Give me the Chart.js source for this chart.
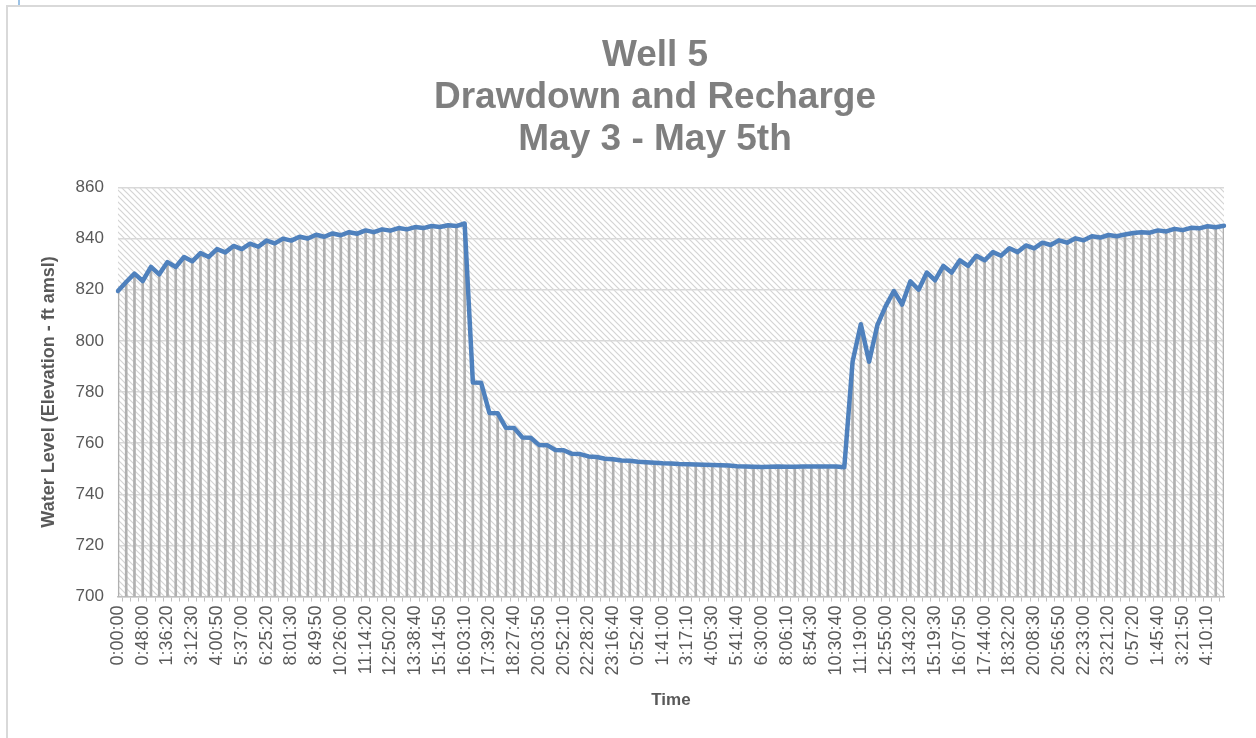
<!DOCTYPE html>
<html>
<head>
<meta charset="utf-8">
<script src="https://cdn.jsdelivr.net/npm/chart.js@4.4.1/dist/chart.umd.min.js"></script>
<style>
    body { margin: 0; background: #fff; overflow: hidden; }
    #frame { position: absolute; left: 6px; top: 5px; width: 1260px; height: 760px; border: 2px solid #d9d9d9; }
    #mark { position: absolute; left: 18px; top: 0; width: 2px; height: 5px; background: #9dc3e6; }
    #myChart { position: absolute; left: 0; top: 0; }
</style>
</head>
<body>
<div id="frame"></div>
<div id="mark"></div>
<canvas id="myChart" width="1256" height="738"></canvas>
<script>
// Időpontok (minden harmadik látszik a tengelyen)
const times = [
    '0:00:00', '0:16:00', '0:32:00', '0:48:00', '1:04:10', '1:20:10',
    '1:36:20', '2:08:20', '2:40:30', '3:12:30', '3:28:40', '3:44:40',
    '4:00:50', '4:32:50', '5:04:50', '5:37:00', '5:53:10', '6:09:10',
    '6:25:20', '6:57:20', '7:29:30', '8:01:30', '8:17:40', '8:33:40',
    '8:49:50', '9:21:50', '9:54:00', '10:26:00', '10:42:10', '10:58:10',
    '11:14:20', '11:46:20', '12:18:20', '12:50:20', '13:06:30', '13:22:30',
    '13:38:40', '14:10:40', '14:42:50', '15:14:50', '15:31:00', '15:47:00',
    '16:03:10', '16:35:10', '17:07:20', '17:39:20', '17:55:30', '18:11:30',
    '18:27:40', '18:59:40', '19:31:50', '20:03:50', '20:20:00', '20:36:00',
    '20:52:10', '21:24:10', '21:56:20', '22:28:20', '22:44:30', '23:00:30',
    '23:16:40', '23:48:40', '0:20:40', '0:52:40', '1:08:50', '1:24:50',
    '1:41:00', '2:13:00', '2:45:10', '3:17:10', '3:33:20', '3:49:20',
    '4:05:30', '4:37:30', '5:09:40', '5:41:40', '5:57:50', '6:13:50',
    '6:30:00', '7:02:00', '7:34:10', '8:06:10', '8:22:20', '8:38:20',
    '8:54:30', '9:26:30', '9:58:40', '10:30:40', '10:46:50', '11:02:50',
    '11:19:00', '11:51:00', '12:23:00', '12:55:00', '13:11:10', '13:27:10',
    '13:43:20', '14:15:20', '14:47:30', '15:19:30', '15:35:40', '15:51:40',
    '16:07:50', '16:39:50', '17:12:00', '17:44:00', '18:00:10', '18:16:10',
    '18:32:20', '19:04:20', '19:36:30', '20:08:30', '20:24:40', '20:40:40',
    '20:56:50', '21:28:50', '22:01:00', '22:33:00', '22:49:10', '23:05:10',
    '23:21:20', '23:53:20', '0:25:20', '0:57:20', '1:13:30', '1:29:30',
    '1:45:40', '2:17:40', '2:49:50', '3:21:50', '3:38:00', '3:54:00',
    '4:10:10', '4:26:20', '4:42:20'
];

// Vízszint (ft amsl)
const waterLevel = [
    819.5, 823.0, 826.3, 823.4, 828.9, 826.0, 830.8, 828.9, 832.8, 831.1,
    834.3, 832.8, 835.9, 834.6, 837.1, 835.9, 838.0, 836.8, 839.2, 838.1,
    840.0, 839.2, 840.7, 840.0, 841.5, 840.7, 842.0, 841.3, 842.5, 841.9,
    843.2, 842.5, 843.6, 843.1, 844.1, 843.6, 844.5, 844.1, 844.9, 844.5,
    845.2, 844.9, 845.9, 783.7, 783.6, 771.8, 771.7, 766.0, 765.9, 762.2,
    762.1, 759.3, 759.2, 757.3, 757.2, 755.8, 755.7, 754.8, 754.6, 753.9,
    753.7, 753.2, 753.1, 752.7, 752.5, 752.3, 752.1, 752.0, 751.8, 751.7,
    751.6, 751.5, 751.4, 751.3, 751.2, 751.0, 750.9, 750.8, 750.7, 750.8,
    750.9, 750.8, 750.8, 750.9, 750.9, 750.9, 750.9, 750.9, 750.6, 791.8,
    806.5, 791.8, 806.1, 813.5, 819.5, 814.2, 823.3, 820.0, 826.7, 823.7,
    829.3, 826.7, 831.5, 829.3, 833.3, 831.5, 834.7, 833.3, 836.2, 834.7,
    837.3, 836.2, 838.4, 837.5, 839.3, 838.4, 840.1, 839.3, 840.9, 840.4,
    841.4, 840.9, 841.6, 842.2, 842.5, 842.3, 843.2, 842.8, 843.8, 843.3,
    844.2, 844.0, 844.8, 844.4, 845.0
];

const yTicks = [700, 720, 740, 760, 780, 800, 820, 840, 860];
const titleLines = ['Well 5', 'Drawdown and Recharge', 'May 3 - May 5th'];

const FONT = "'Liberation Sans', Arial, sans-serif";

// Sraffozott háttér a rajzterülethez
function makeHatch() {
    const c = document.createElement('canvas');
    c.width = 6; c.height = 6;
    const g = c.getContext('2d');
    g.strokeStyle = '#d4d4d4';
    g.lineWidth = 1.2;
    g.beginPath();
    g.moveTo(-1, -1); g.lineTo(7, 7);
    g.moveTo(-1, 5); g.lineTo(1, 7);
    g.moveTo(5, -1); g.lineTo(7, 1);
    g.stroke();
    return c;
}

const hatchPlugin = {
    id: 'hatch',
    afterLayout(chart) {
        // a cím a teljes keret közepére kerül, nem a kitöltött terület közepére
        if (chart.titleBlock) {
            chart.titleBlock.left += 24;
            chart.titleBlock.right += 24;
        }
    },
    beforeDraw(chart) {
        const { ctx, chartArea: a } = chart;
        ctx.save();
        ctx.fillStyle = ctx.createPattern(makeHatch(), 'repeat');
        ctx.fillRect(a.left, a.top, a.right - a.left, a.bottom - a.top);
        ctx.restore();
    }
};

new Chart(document.getElementById('myChart'), {
    type: 'line',
    data: {
        labels: times,
        datasets: [
            {
                type: 'line',
                data: waterLevel,
                borderColor: '#4f81bd',
                borderWidth: 4.5,
                pointRadius: 0,
                tension: 0,
                borderJoinStyle: 'round',
                borderCapStyle: 'round',
                order: 0
            },
            {
                // függőleges vetítővonalak
                type: 'bar',
                data: waterLevel,
                backgroundColor: '#b0b0b0',
                barThickness: 2,
                order: 1
            }
        ]
    },
    options: {
        responsive: false,
        animation: false,
        layout: { padding: { left: 38, right: 32, top: 35, bottom: 27 } },
        plugins: {
            legend: { display: false },
            tooltip: { enabled: false },
            title: {
                display: true,
                text: titleLines,
                color: '#7f7f7f',
                font: { family: FONT, size: 37, weight: 'bold', lineHeight: 1.13 },
                padding: { top: 0, bottom: 27 }
            }
        },
        scales: {
            x: {
                type: 'category',
                offset: false,
                grid: { drawOnChartArea: false, drawTicks: true, tickLength: 5, color: '#bfbfbf' },
                border: { color: '#bfbfbf', width: 1.5 },
                ticks: {
                    autoSkip: false,
                    maxRotation: 90,
                    minRotation: 90,
                    padding: 4,
                    color: '#595959',
                    font: { family: FONT, size: 18 },
                    callback: (v, i) => (i % 3 === 0 ? times[i] : '')
                },
                title: {
                    display: true,
                    text: 'Time',
                    color: '#595959',
                    font: { family: FONT, size: 17, weight: 'bold' },
                    padding: { top: 11, bottom: 0 }
                }
            },
            y: {
                min: yTicks[0],
                max: yTicks[yTicks.length - 1],
                afterBuildTicks: axis => { axis.ticks = yTicks.map(v => ({ value: v })); },
                grid: { color: '#d9d9d9', lineWidth: 1.5, drawTicks: false },
                border: { display: false },
                ticks: {
                    padding: 14,
                    color: '#595959',
                    font: { family: FONT, size: 17 }
                },
                title: {
                    display: true,
                    text: 'Water Level (Elevation - ft amsl)',
                    color: '#595959',
                    font: { family: FONT, size: 18, weight: 'bold' },
                    padding: { top: 0, bottom: 2 }
                }
            }
        }
    },
    plugins: [hatchPlugin]
});
</script>
</body>
</html>
